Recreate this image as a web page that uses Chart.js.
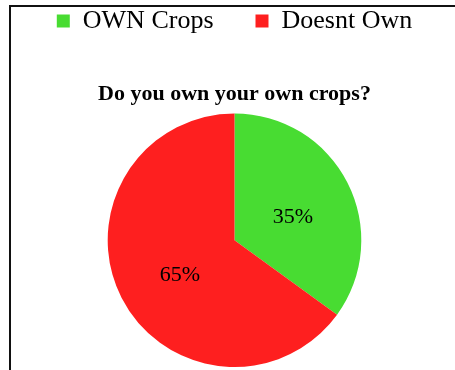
<!DOCTYPE html>
<html>
<head>
<meta charset="utf-8">
<script src="https://cdn.jsdelivr.net/npm/chart.js@4/dist/chart.umd.min.js"></script>
<style>
    html, body { margin: 0; padding: 0; background: #fff; }
    body { width: 455px; height: 370px; position: relative; overflow: hidden; }
    .frame {
        position: absolute; left: 9px; top: 5px; width: 500px; height: 420px;
        border-left: 2px solid #111; border-top: 2px solid #111;
    }
    #chart { position: absolute; left: 0; top: 0; }
</style>
</head>
<body>
<div class="frame"></div>
<canvas id="chart" width="455" height="370"></canvas>
<script>
// Pie data
const categories = ['OWN Crops', 'Doesnt Own'];
const shares = [35, 65];
const sliceColors = ['#48dc32', '#fe1f1f'];

// draws "35%" etc. in the middle of each slice
const sliceLabels = {
    id: 'sliceLabels',
    afterDatasetsDraw(chart) {
        const ctx = chart.ctx;
        const meta = chart.getDatasetMeta(0);
        ctx.save();
        ctx.font = '22px "Liberation Serif", "Times New Roman", serif';
        ctx.fillStyle = '#000';
        ctx.textAlign = 'center';
        ctx.textBaseline = 'middle';
        meta.data.forEach((arc, i) => {
            const pos = arc.tooltipPosition();
            ctx.fillText(shares[i] + '%', pos.x + 2, pos.y + 6);
        });
        ctx.restore();
    }
};

new Chart(document.getElementById('chart'), {
    type: 'pie',
    data: {
        labels: categories,
        datasets: [{
            data: shares,
            backgroundColor: sliceColors,
            borderWidth: 0
        }]
    },
    options: {
        responsive: false,
        animation: false,
        layout: {
            padding: { top: -34, left: 14, right: 0, bottom: 3 }
        },
        plugins: {
            legend: {
                position: 'top',
                weight: 3000, // legend above the title
                labels: {
                    color: '#000',
                    boxWidth: 13,
                    boxHeight: 13,
                    padding: 42,
                    font: { family: '"Liberation Serif", "Times New Roman", serif', size: 26 }
                }
            },
            title: {
                display: true,
                text: 'Do you own your own crops?',
                color: '#000',
                padding: { top: 37, bottom: 6 },
                font: { family: '"Liberation Serif", "Times New Roman", serif', size: 22, weight: 'bold' }
            },
            tooltip: { enabled: false }
        }
    },
    plugins: [sliceLabels]
});
</script>
</body>
</html>
